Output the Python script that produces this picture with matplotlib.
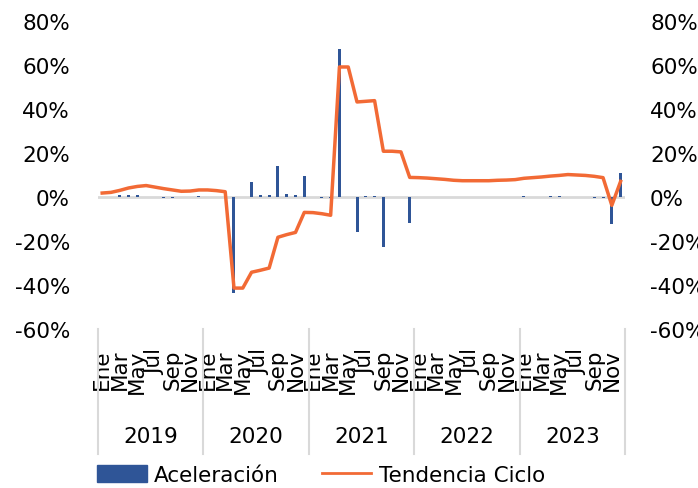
import numpy as np
import matplotlib
matplotlib.use('Agg')
import matplotlib.pyplot as plt
from matplotlib.patches import Patch
from matplotlib.lines import Line2D

plt.rcParams['font.family'] = ['DejaVu Sans']

years = ['2019', '2020', '2021', '2022', '2023']
months = ['Ene', 'Feb', 'Mar', 'Abr', 'May', 'Jun', 'Jul', 'Ago', 'Sep', 'Oct', 'Nov', 'Dic']

# Aceleración (%), monthly 2019-2023
aceleracion = [
    0.0, 0.0, 0.8, 1.0, 0.9, 0.0, 0.0, -0.6, -0.6, 0.0, 0.0, 0.5,
    0.0, 0.0, -0.3, -43.6, 0.0, 7.0, 0.9, 1.0, 14.0, 1.4, 0.9, 9.4,
    0.0, -0.3, -0.3, 67.3, 0.0, -15.9, 0.3, 0.3, -22.9, 0.0, 0.0, -12.0,
    0.0, 0.0, 0.0, 0.0, 0.0, 0.0, 0.0, 0.0, 0.0, 0.0, 0.0, 0.0,
    0.6, 0.0, 0.0, 0.3, 0.3, 0.0, 0.0, 0.0, -0.5, -0.5, -12.1, 11.1,
]
# Tendencia Ciclo (%)
tendencia = [
    1.8, 2.1, 3.0, 4.1, 4.8, 5.2, 4.5, 3.8, 3.2, 2.6, 2.7, 3.2,
    3.2, 2.9, 2.4, -41.4, -41.4, -34.2, -33.3, -32.3, -18.3, -17.1, -16.1, -7.0,
    -7.1, -7.6, -8.3, 59.1, 59.1, 43.2, 43.5, 43.8, 20.8, 20.8, 20.5, 8.9,
    8.8, 8.6, 8.3, 8.0, 7.6, 7.4, 7.4, 7.4, 7.4, 7.6, 7.7, 7.9,
    8.5, 8.8, 9.1, 9.5, 9.8, 10.2, 10.0, 9.8, 9.4, 8.8, -3.8, 7.1,
]
yticks = [-60, -40, -20, 0, 20, 40, 60, 80]

FS = 15.5
W, H = 698, 489
fig = plt.figure(figsize=(W / 100, H / 100), dpi=100)
left, right, top, bottom = 97.8, 625, 22, 330
ax = fig.add_axes([left / W, 1 - bottom / H, (right - left) / W, (bottom - top) / H])

n = len(aceleracion)
x = np.arange(n)
ax.axhline(0, color='#D9D9D9', lw=2, zorder=1)
ax.bar(x, aceleracion, width=0.34, color='#2F5597', zorder=2)
ax.plot(x, tendencia, color='#F26A35', lw=2.5, zorder=3)

ax.set_xlim(-0.5, n - 0.5)
ax.set_ylim(-60, 80)
ax.set_yticks(yticks)
ax.set_yticklabels([f'{v}%' for v in yticks])
ax.tick_params(axis='y', length=0, pad=20, labelsize=FS)

ax.set_xticks(x[::2])
ax.set_xticklabels([months[i % 12] for i in x[::2]], rotation=90)
ax.tick_params(axis='x', length=0, pad=14, labelsize=FS)

for s in ax.spines.values():
    s.set_visible(False)

ax2 = ax.twinx()
ax2.set_ylim(-60, 80)
ax2.set_yticks(yticks)
ax2.set_yticklabels([f'{v}%' for v in yticks])
ax2.tick_params(axis='y', length=0, pad=18, labelsize=FS)
for s in ax2.spines.values():
    s.set_visible(False)

# year groups and separators
trans = ax.get_xaxis_transform()
y_bot = -(455 - bottom) / (bottom - top)
for k in range(len(years) + 1):
    ax.plot([k * 12 - 0.5] * 2, [0, y_bot], transform=trans, color='#D9D9D9',
            lw=1.5, clip_on=False)
for k, yr in enumerate(years):
    ax.text(k * 12 + 5.5, -(437 - bottom) / (bottom - top), yr, transform=trans,
            ha='center', va='center', fontsize=FS)

handles = [Patch(color='#2F5597'), Line2D([0], [0], color='#F26A35', lw=2)]
fig.legend(handles, ['Aceleración', 'Tendencia Ciclo'], loc='center left',
           bbox_to_anchor=(97 / W, 1 - 476 / H), ncol=2, frameon=False,
           fontsize=FS, handlelength=2.3, handleheight=0.8, handletextpad=0.35,
           columnspacing=2.0, borderaxespad=0, borderpad=0)

fig.savefig('out.png', dpi=100)
